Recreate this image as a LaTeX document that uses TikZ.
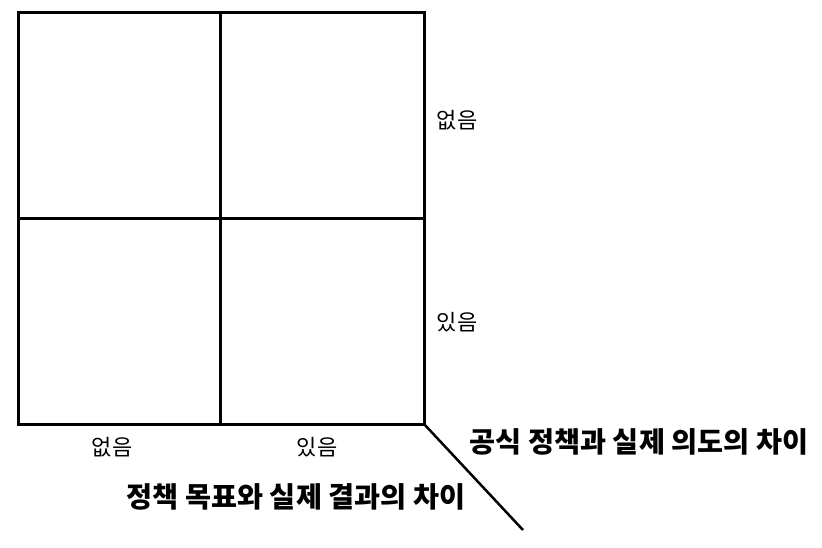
\documentclass[tikz,border=0pt]{standalone}
\usepackage{fontspec}
\newfontfamily\kr{Noto Sans CJK KR}
\tikzset{
  grid line/.style={line width=3pt},
  axis label/.style={font=\kr\fontsize{22}{22}\selectfont, inner sep=0pt},
  axis title/.style={font=\kr\bfseries\fontsize{28.3}{28}\selectfont, inner sep=0pt}
}

\begin{document}
\begin{tikzpicture}[x=1pt, y=-1pt]
            \useasboundingbox (0,0) rectangle (822,547);
            % quadrants
            \coordinate (nw) at (18,12);
            \coordinate (se) at (424,424);
            \coordinate (tip) at (523,530);
            \draw [grid line] (nw) rectangle (se);
            \draw [grid line] (220,12) -- (220,424);
            \draw [grid line] (18,218) -- (424,218);
            \draw [line width=2.5pt] (se) -- (tip);
            % labels
            \node [axis label] (rowno) at (457,120) {없음};
            \node [axis label] (rowyes) at (457,322) {있음};
            \node [axis label] (colno) at (112,447) {없음};
            \node [axis label] (colyes) at (317,447) {있음};
            \node [axis title] (intent) at (639,442) {공식 정책과 실제 의도의 차이};
            \node [axis title] (result) at (296,497) {정책 목표와 실제 결과의 차이};
        \end{tikzpicture}
\end{document}
